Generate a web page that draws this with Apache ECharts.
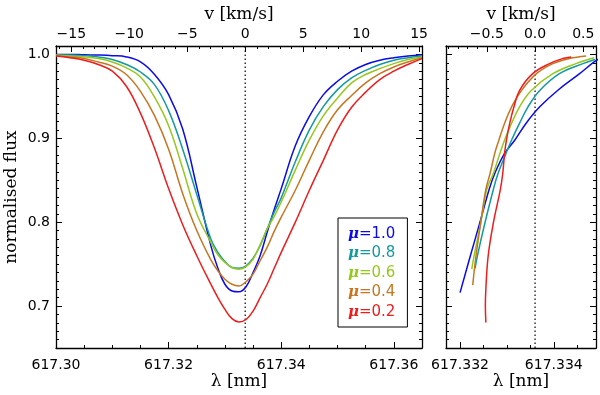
<!DOCTYPE html>
<html>
<head>
<meta charset="utf-8">
<script src="https://cdn.jsdelivr.net/npm/echarts@6/dist/echarts.min.js"></script>
<style>
  html, body { margin: 0; padding: 0; background: #fff; }
  #myCharts { width: 600px; height: 395px; }
</style>
</head>
<body>
<div id="myCharts"></div>
<script>
// wavelength grid of the line profiles [nm]
const lambdaGrid = [617.3000, 617.3025, 617.3050, 617.3075, 617.3100, 617.3125, 617.3150, 617.3175,
  617.3200, 617.3225, 617.3250, 617.3275, 617.32875, 617.3300, 617.33125, 617.3325, 617.33375,
  617.3350, 617.33625, 617.3375, 617.33875, 617.3400, 617.3425, 617.3450, 617.3475, 617.3500,
  617.3525, 617.3550, 617.3575, 617.3600, 617.3625, 617.3650]

// normalised flux for each mu, on lambdaGrid
const flux_mu10 = [1.000, 1.000, 0.9995, 0.9992, 0.9985, 0.997, 0.991, 0.976, 0.952, 0.911, 0.842, 0.772,
  0.745, 0.726, 0.718, 0.717, 0.723, 0.740, 0.760, 0.788, 0.815, 0.840, 0.891, 0.926, 0.952, 0.968,
  0.980, 0.988, 0.993, 0.996, 0.998, 0.9995]
const flux_mu08 = [0.9995, 0.9993, 0.9985, 0.997, 0.994, 0.988, 0.979, 0.964, 0.933, 0.887, 0.833, 0.780,
  0.764, 0.753, 0.746, 0.745, 0.748, 0.757, 0.772, 0.792, 0.812, 0.829, 0.872, 0.910, 0.938, 0.958,
  0.972, 0.981, 0.988, 0.993, 0.996, 0.998]
const flux_mu06 = [0.999, 0.998, 0.997, 0.995, 0.991, 0.984, 0.973, 0.949, 0.915, 0.864, 0.810, 0.776,
  0.761, 0.752, 0.746, 0.744, 0.747, 0.756, 0.773, 0.792, 0.807, 0.824, 0.862, 0.898, 0.927, 0.948,
  0.966, 0.976, 0.983, 0.989, 0.994, 0.997]
const flux_mu04 = [0.9985, 0.997, 0.995, 0.991, 0.986, 0.976, 0.956, 0.927, 0.887, 0.834, 0.790, 0.755,
  0.742, 0.732, 0.726, 0.724, 0.729, 0.738, 0.754, 0.770, 0.789, 0.806, 0.838, 0.874, 0.908, 0.934,
  0.951, 0.966, 0.977, 0.985, 0.991, 0.996]
const flux_mu02 = [0.998, 0.996, 0.993, 0.988, 0.980, 0.962, 0.930, 0.888, 0.840, 0.797, 0.760, 0.726,
  0.710, 0.696, 0.685, 0.681, 0.684, 0.694, 0.710, 0.726, 0.745, 0.764, 0.800, 0.838, 0.874, 0.910,
  0.937, 0.955, 0.970, 0.980, 0.988, 0.995]

// line bisectors: flux level and bisector wavelength [nm]
const bisFlux_mu10 = [0.716, 0.760, 0.799, 0.839, 0.858, 0.882, 0.898, 0.918, 0.9375, 0.957, 0.977, 0.991, 0.996]
const bisLambda_mu10 = [617.33200, 617.33222, 617.33242, 617.33262, 617.33274, 617.33295, 617.33317,
  617.33341, 617.33370, 617.33408, 617.33455, 617.33486, 617.33500]
const bisFlux_mu08 = [0.745, 0.760, 0.799, 0.839, 0.858, 0.882, 0.898, 0.918, 0.9375, 0.957, 0.977, 0.989, 0.994]
const bisLambda_mu08 = [617.33232, 617.33237, 617.33253, 617.33271, 617.33281, 617.33298, 617.33310,
  617.33327, 617.33345, 617.33370, 617.33412, 617.33462, 617.33488]
const bisFlux_mu06 = [0.744, 0.760, 0.799, 0.839, 0.858, 0.882, 0.898, 0.918, 0.9375, 0.957, 0.977, 0.989, 0.996]
const bisLambda_mu06 = [617.33225, 617.33230, 617.33244, 617.33257, 617.33271, 617.33285, 617.33295,
  617.33310, 617.33327, 617.33352, 617.33398, 617.33447, 617.33486]
const bisFlux_mu04 = [0.725, 0.760, 0.799, 0.839, 0.858, 0.882, 0.898, 0.918, 0.9375, 0.957, 0.977, 0.989, 0.995, 0.998]
const bisLambda_mu04 = [617.33227, 617.33234, 617.33244, 617.33255, 617.33264, 617.33274, 617.33283,
  617.33295, 617.33310, 617.33331, 617.33363, 617.33398, 617.33433, 617.33469]
const bisFlux_mu02 = [0.6805, 0.700, 0.720, 0.760, 0.799, 0.839, 0.858, 0.882, 0.898, 0.918, 0.9375, 0.957,
  0.977, 0.989, 0.995, 0.997]
const bisLambda_mu02 = [617.33255, 617.33254, 617.33255, 617.33260, 617.33271, 617.33286, 617.33291,
  617.33295, 617.33299, 617.33306, 617.33315, 617.33327, 617.33355, 617.33391, 617.33419, 617.33437]

const muLabels = ['μ=1.0', 'μ=0.8', 'μ=0.6', 'μ=0.4', 'μ=0.2']
const muColors = ['#0b0be8', '#139a9e', '#96c81c', '#c7761f', '#ee1c1c']

// tick labels
const lambdaTicksLeft = [617.30, 617.32, 617.34, 617.36]
const lambdaTicksRight = [617.332, 617.334]
const velTicksLeft = [-15, -10, -5, 0, 5, 10, 15]
const velTicksRight = [-0.5, 0.0, 0.5]
const fluxTicks = [0.7, 0.8, 0.9, 1.0]

const LAMBDA0 = 617.3336 // line centre [nm]
const C_KMS = 299792.458
const FLUX_MIN = 0.65
const FLUX_MAX = 1.01
const LEFT_RANGE = [617.300, 617.365]
const RIGHT_RANGE = [617.3317, 617.3349]

const toVel = l => (l - LAMBDA0) / LAMBDA0 * C_KMS

function ticksBetween(start, stop, step) {
    const out = []
    const n = Math.round((stop - start) / step)
    for (let i = 0; i <= n; i++) out.push(+(start + i * step).toFixed(6))
    return out
}
const inside = (arr, lo, hi) => arr.filter(v => v >= lo && v <= hi)

const minus = s => s.replace('-', '\u2212')
const TICK_FONT = { color: '#000', fontFamily: 'DejaVu Sans', fontSize: 14 }
const NAME_FONT = { color: '#000', fontFamily: 'DejaVu Serif', fontSize: 17 }

// one axis with long ticks (+labels) and a twin with short minor ticks
function axisPair(base, majors, minors, label) {
    const major = Object.assign({
        type: 'value',
        axisLine: { show: true, onZero: false, lineStyle: { color: '#000', width: 1.3 } },
        axisTick: { show: true, inside: true, length: 6, customValues: majors, lineStyle: { color: '#000', width: 1 } },
        axisLabel: label ? Object.assign({ show: true, customValues: majors }, TICK_FONT, label) : { show: false },
        splitLine: { show: false },
        minorTick: { show: false },
        nameMoveOverlap: false
    }, base)
    const minor = Object.assign({}, base, {
        type: 'value',
        name: '',
        axisLine: { show: false, onZero: false },
        axisTick: { show: true, inside: true, length: 3, customValues: minors, lineStyle: { color: '#000', width: 1 } },
        axisLabel: { show: false },
        splitLine: { show: false },
        minorTick: { show: false }
    })
    return [major, minor]
}

const vL = LEFT_RANGE.map(toVel)
const vR = RIGHT_RANGE.map(toVel)

const xAxes = [].concat(
    axisPair({ gridIndex: 0, position: 'bottom', min: LEFT_RANGE[0], max: LEFT_RANGE[1],
        name: 'λ [nm]', nameLocation: 'middle', nameGap: 25, nameTextStyle: NAME_FONT },
    lambdaTicksLeft, ticksBetween(617.300, 617.365, 0.005), { margin: 10, formatter: v => v.toFixed(2) }),
    axisPair({ gridIndex: 0, position: 'top', min: vL[0], max: vL[1],
        name: 'v [km/s]', nameLocation: 'middle', nameGap: 23, nameTextStyle: NAME_FONT },
    velTicksLeft, inside(ticksBetween(-16, 15, 1), vL[0], vL[1]), { margin: 5, formatter: v => minus(String(v)) }),
    axisPair({ gridIndex: 1, position: 'bottom', min: RIGHT_RANGE[0], max: RIGHT_RANGE[1],
        name: 'λ [nm]', nameLocation: 'middle', nameGap: 25, nameTextStyle: NAME_FONT },
    lambdaTicksRight, ticksBetween(617.3320, 617.3345, 0.0005), { margin: 10, formatter: v => v.toFixed(3) }),
    axisPair({ gridIndex: 1, position: 'top', min: vR[0], max: vR[1],
        name: 'v [km/s]', nameLocation: 'middle', nameGap: 23, nameTextStyle: NAME_FONT },
    velTicksRight, inside(ticksBetween(-0.9, 0.6, 0.1), vR[0], vR[1]), { margin: 5, formatter: v => minus(v.toFixed(1)) })
)

const fluxMinor = ticksBetween(0.66, 1.01, 0.01)
const yAxes = [].concat(
    axisPair({ gridIndex: 0, position: 'left', min: FLUX_MIN, max: FLUX_MAX,
        name: 'normalised flux', nameLocation: 'middle', nameGap: 36, nameTextStyle: NAME_FONT },
    fluxTicks, fluxMinor, { margin: 6, formatter: v => v.toFixed(1) }),
    axisPair({ gridIndex: 0, position: 'right', min: FLUX_MIN, max: FLUX_MAX }, fluxTicks, fluxMinor, null),
    axisPair({ gridIndex: 1, position: 'left', min: FLUX_MIN, max: FLUX_MAX }, fluxTicks, fluxMinor, null),
    axisPair({ gridIndex: 1, position: 'right', min: FLUX_MIN, max: FLUX_MAX }, fluxTicks, fluxMinor, null)
)

const profiles = [flux_mu10, flux_mu08, flux_mu06, flux_mu04, flux_mu02]
const bisFlux = [bisFlux_mu10, bisFlux_mu08, bisFlux_mu06, bisFlux_mu04, bisFlux_mu02]
const bisLambda = [bisLambda_mu10, bisLambda_mu08, bisLambda_mu06, bisLambda_mu04, bisLambda_mu02]

const dotted = (xi, yi) => ({
    type: 'line', xAxisIndex: xi, yAxisIndex: yi, silent: true, showSymbol: false,
    data: [[LAMBDA0, FLUX_MIN], [LAMBDA0, FLUX_MAX]],
    lineStyle: { color: '#000', width: 1.2, type: [1.5, 2.5] }
})

const series = [dotted(0, 0), dotted(4, 4)]
profiles.forEach((f, i) => {
    series.push({
        name: muLabels[i], type: 'line', xAxisIndex: 0, yAxisIndex: 0,
        showSymbol: false, smooth: 0.4,
        data: lambdaGrid.map((l, k) => [l, f[k]]),
        lineStyle: { color: muColors[i], width: 1.5 },
        itemStyle: { color: muColors[i] }
    })
})
bisFlux.forEach((f, i) => {
    series.push({
        name: muLabels[i], type: 'line', xAxisIndex: 4, yAxisIndex: 4,
        showSymbol: false, smooth: 0.4,
        data: bisLambda[i].map((l, k) => [l, f[k]]),
        lineStyle: { color: muColors[i], width: 1.5 },
        itemStyle: { color: muColors[i] }
    })
})

const chart = echarts.init(document.getElementById('myCharts'))
chart.setOption({
    animation: false,
    backgroundColor: '#fff',
    grid: [
        { left: 56, top: 46, width: 366, height: 302, outerBoundsMode: 'none' },
        { left: 446, top: 46, width: 150, height: 302, outerBoundsMode: 'none' }
    ],
    legend: {
        orient: 'vertical',
        left: 338,
        top: 218,
        padding: [8, 12, 7, 5],
        itemGap: 3.5,
        itemWidth: 0,
        itemHeight: 0,
        icon: 'rect',
        selectedMode: false,
        borderColor: '#000',
        borderWidth: 1,
        backgroundColor: '#fff',
        data: muLabels.map((n, i) => ({ name: n, textStyle: { color: muColors[i] } })),
        formatter: n => '{m|μ}' + n.slice(1),
        textStyle: {
            fontFamily: 'DejaVu Sans', fontSize: 15, lineHeight: 16,
            rich: { m: { fontFamily: 'DejaVu Serif', fontStyle: 'italic', fontWeight: 'bold', fontSize: 15, lineHeight: 16 } }
        }
    },
    xAxis: xAxes,
    yAxis: yAxes,
    series: series
})
</script>
</body>
</html>
